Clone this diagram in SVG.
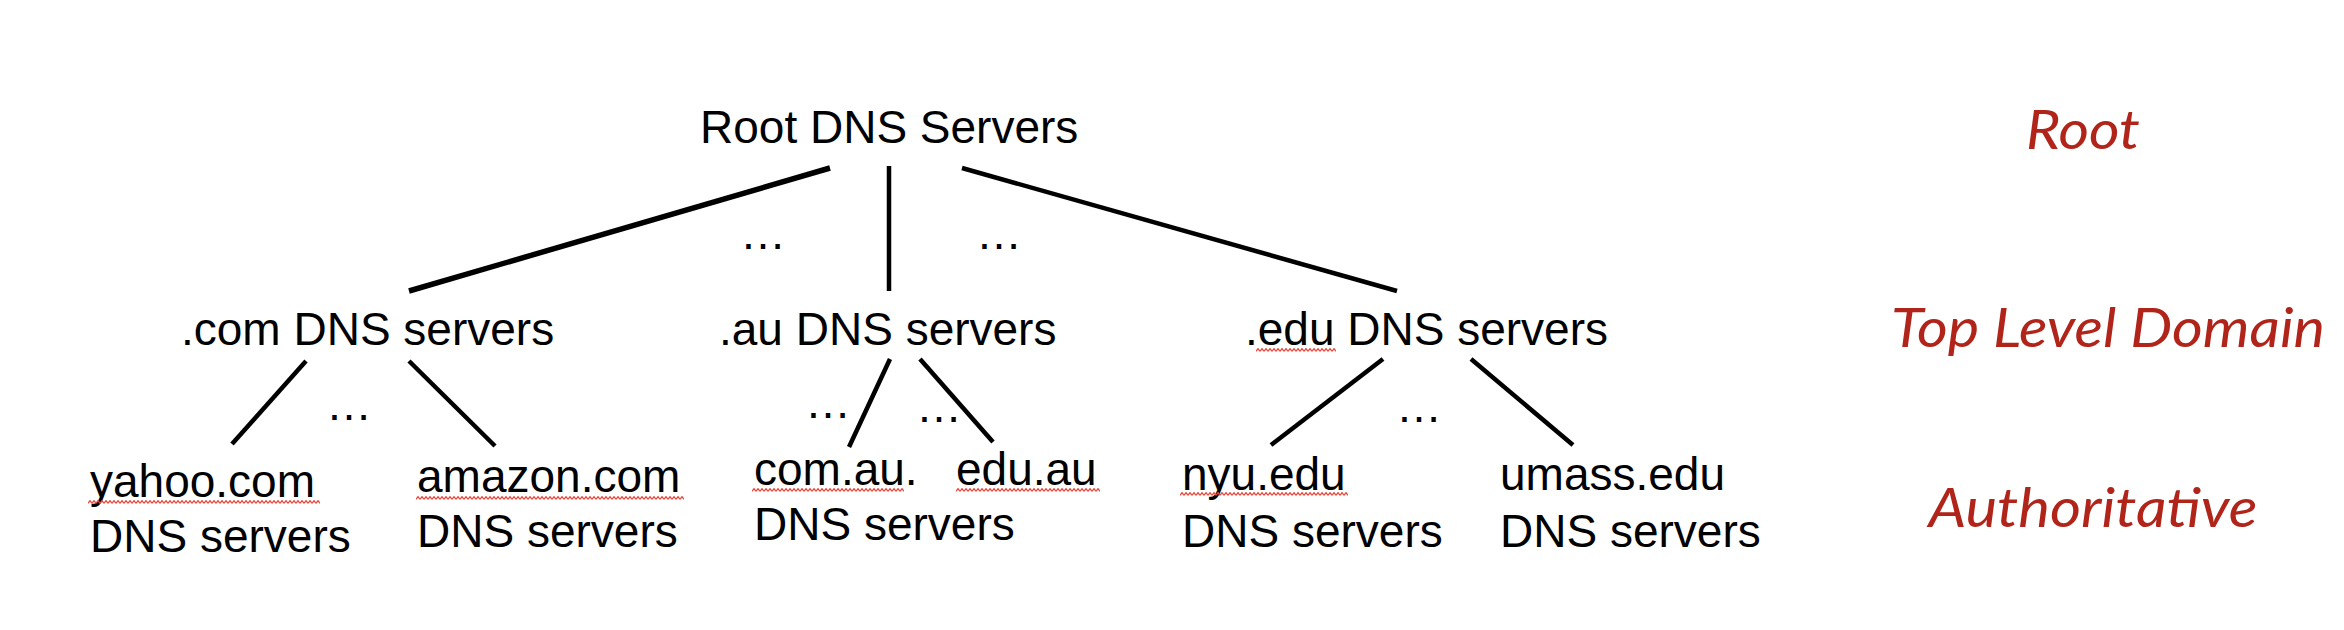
<svg xmlns="http://www.w3.org/2000/svg" width="2344" height="630" viewBox="0 0 2344 630">
<style>
.t{font-family:"Liberation Sans",Arial,sans-serif;font-size:46px;fill:#000}
.m{text-anchor:middle}
.lvl{font-family:Lato,"Open Sans",sans-serif;font-style:italic;font-size:54px;fill:#B0241A;text-anchor:middle}
.c{stroke:#000;stroke-width:4.5;stroke-linecap:butt;fill:none}
.sq{fill:url(#squiggle)}
</style>
<defs>
<pattern id="squiggle" patternUnits="userSpaceOnUse" x="0" y="0" width="4" height="4">
<polyline points="0,3.3 2,0.7 4,3.3" fill="none" stroke="#E8473B" stroke-width="1.3"/>
</pattern>
</defs>
<rect width="2344" height="630" fill="#fff"/>
<g id="connectors">
<line class="c" x1="830" y1="168" x2="409" y2="291" style="stroke-width:5.5"/>
<line class="c" x1="889" y1="166" x2="889" y2="291"/>
<line class="c" x1="962" y1="168" x2="1397" y2="291"/>
<line class="c" x1="306" y1="361" x2="232" y2="444"/>
<line class="c" x1="409" y1="361" x2="495" y2="446"/>
<line class="c" x1="890" y1="359" x2="849" y2="447"/>
<line class="c" x1="920" y1="359" x2="993" y2="442"/>
<line class="c" x1="1383" y1="359" x2="1271" y2="445"/>
<line class="c" x1="1471" y1="359" x2="1573" y2="445"/>
</g>
<g id="ellipses">
<text class="t m" x="763" y="249">…</text>
<text class="t m" x="999" y="249">…</text>
<text class="t m" x="349" y="420">…</text>
<text class="t m" x="828" y="418">…</text>
<text class="t m" x="939" y="422">…</text>
<text class="t m" x="1419" y="422">…</text>
</g>
<g id="root">
<text class="t" x="700" y="143">Root DNS Servers</text>
</g>
<g id="com">
<text class="t" x="181" y="345">.com DNS servers</text>
</g>
<g id="au">
<text class="t" x="719" y="345">.au DNS servers</text>
</g>
<g id="edu">
<text class="t" x="1245" y="345">.edu DNS servers</text>
<rect class="sq" x="1256" y="348" width="80" height="4"/>
</g>
<g id="yahoo">
<text class="t" x="90" y="497">yahoo.com</text>
<text class="t" x="90" y="552">DNS servers</text>
<rect class="sq" x="88" y="500" width="232" height="4"/>
</g>
<g id="amazon">
<text class="t" x="417" y="492">amazon.com</text>
<text class="t" x="417" y="547">DNS servers</text>
<rect class="sq" x="416" y="496" width="268" height="4"/>
</g>
<g id="comau">
<text class="t" x="754" y="485">com.au.</text>
<text class="t" x="754" y="540">DNS servers</text>
<rect class="sq" x="752" y="488" width="152" height="4"/>
</g>
<g id="eduau">
<text class="t" x="956" y="485">edu.au</text>
<rect class="sq" x="956" y="488" width="144" height="4"/>
</g>
<g id="nyu">
<text class="t" x="1182" y="490">nyu.edu</text>
<text class="t" x="1182" y="547">DNS servers</text>
<rect class="sq" x="1180" y="492" width="168" height="4"/>
</g>
<g id="umass">
<text class="t" x="1500" y="490">umass.edu</text>
<text class="t" x="1500" y="547">DNS servers</text>
</g>
<g id="levels">
<text class="lvl" x="2083" y="149" textLength="114" lengthAdjust="spacingAndGlyphs">Root</text>
<text class="lvl" x="2108" y="347" textLength="434" lengthAdjust="spacingAndGlyphs">Top Level Domain</text>
<text class="lvl" x="2093" y="527" textLength="329" lengthAdjust="spacingAndGlyphs">Authoritative</text>
</g>
</svg>
